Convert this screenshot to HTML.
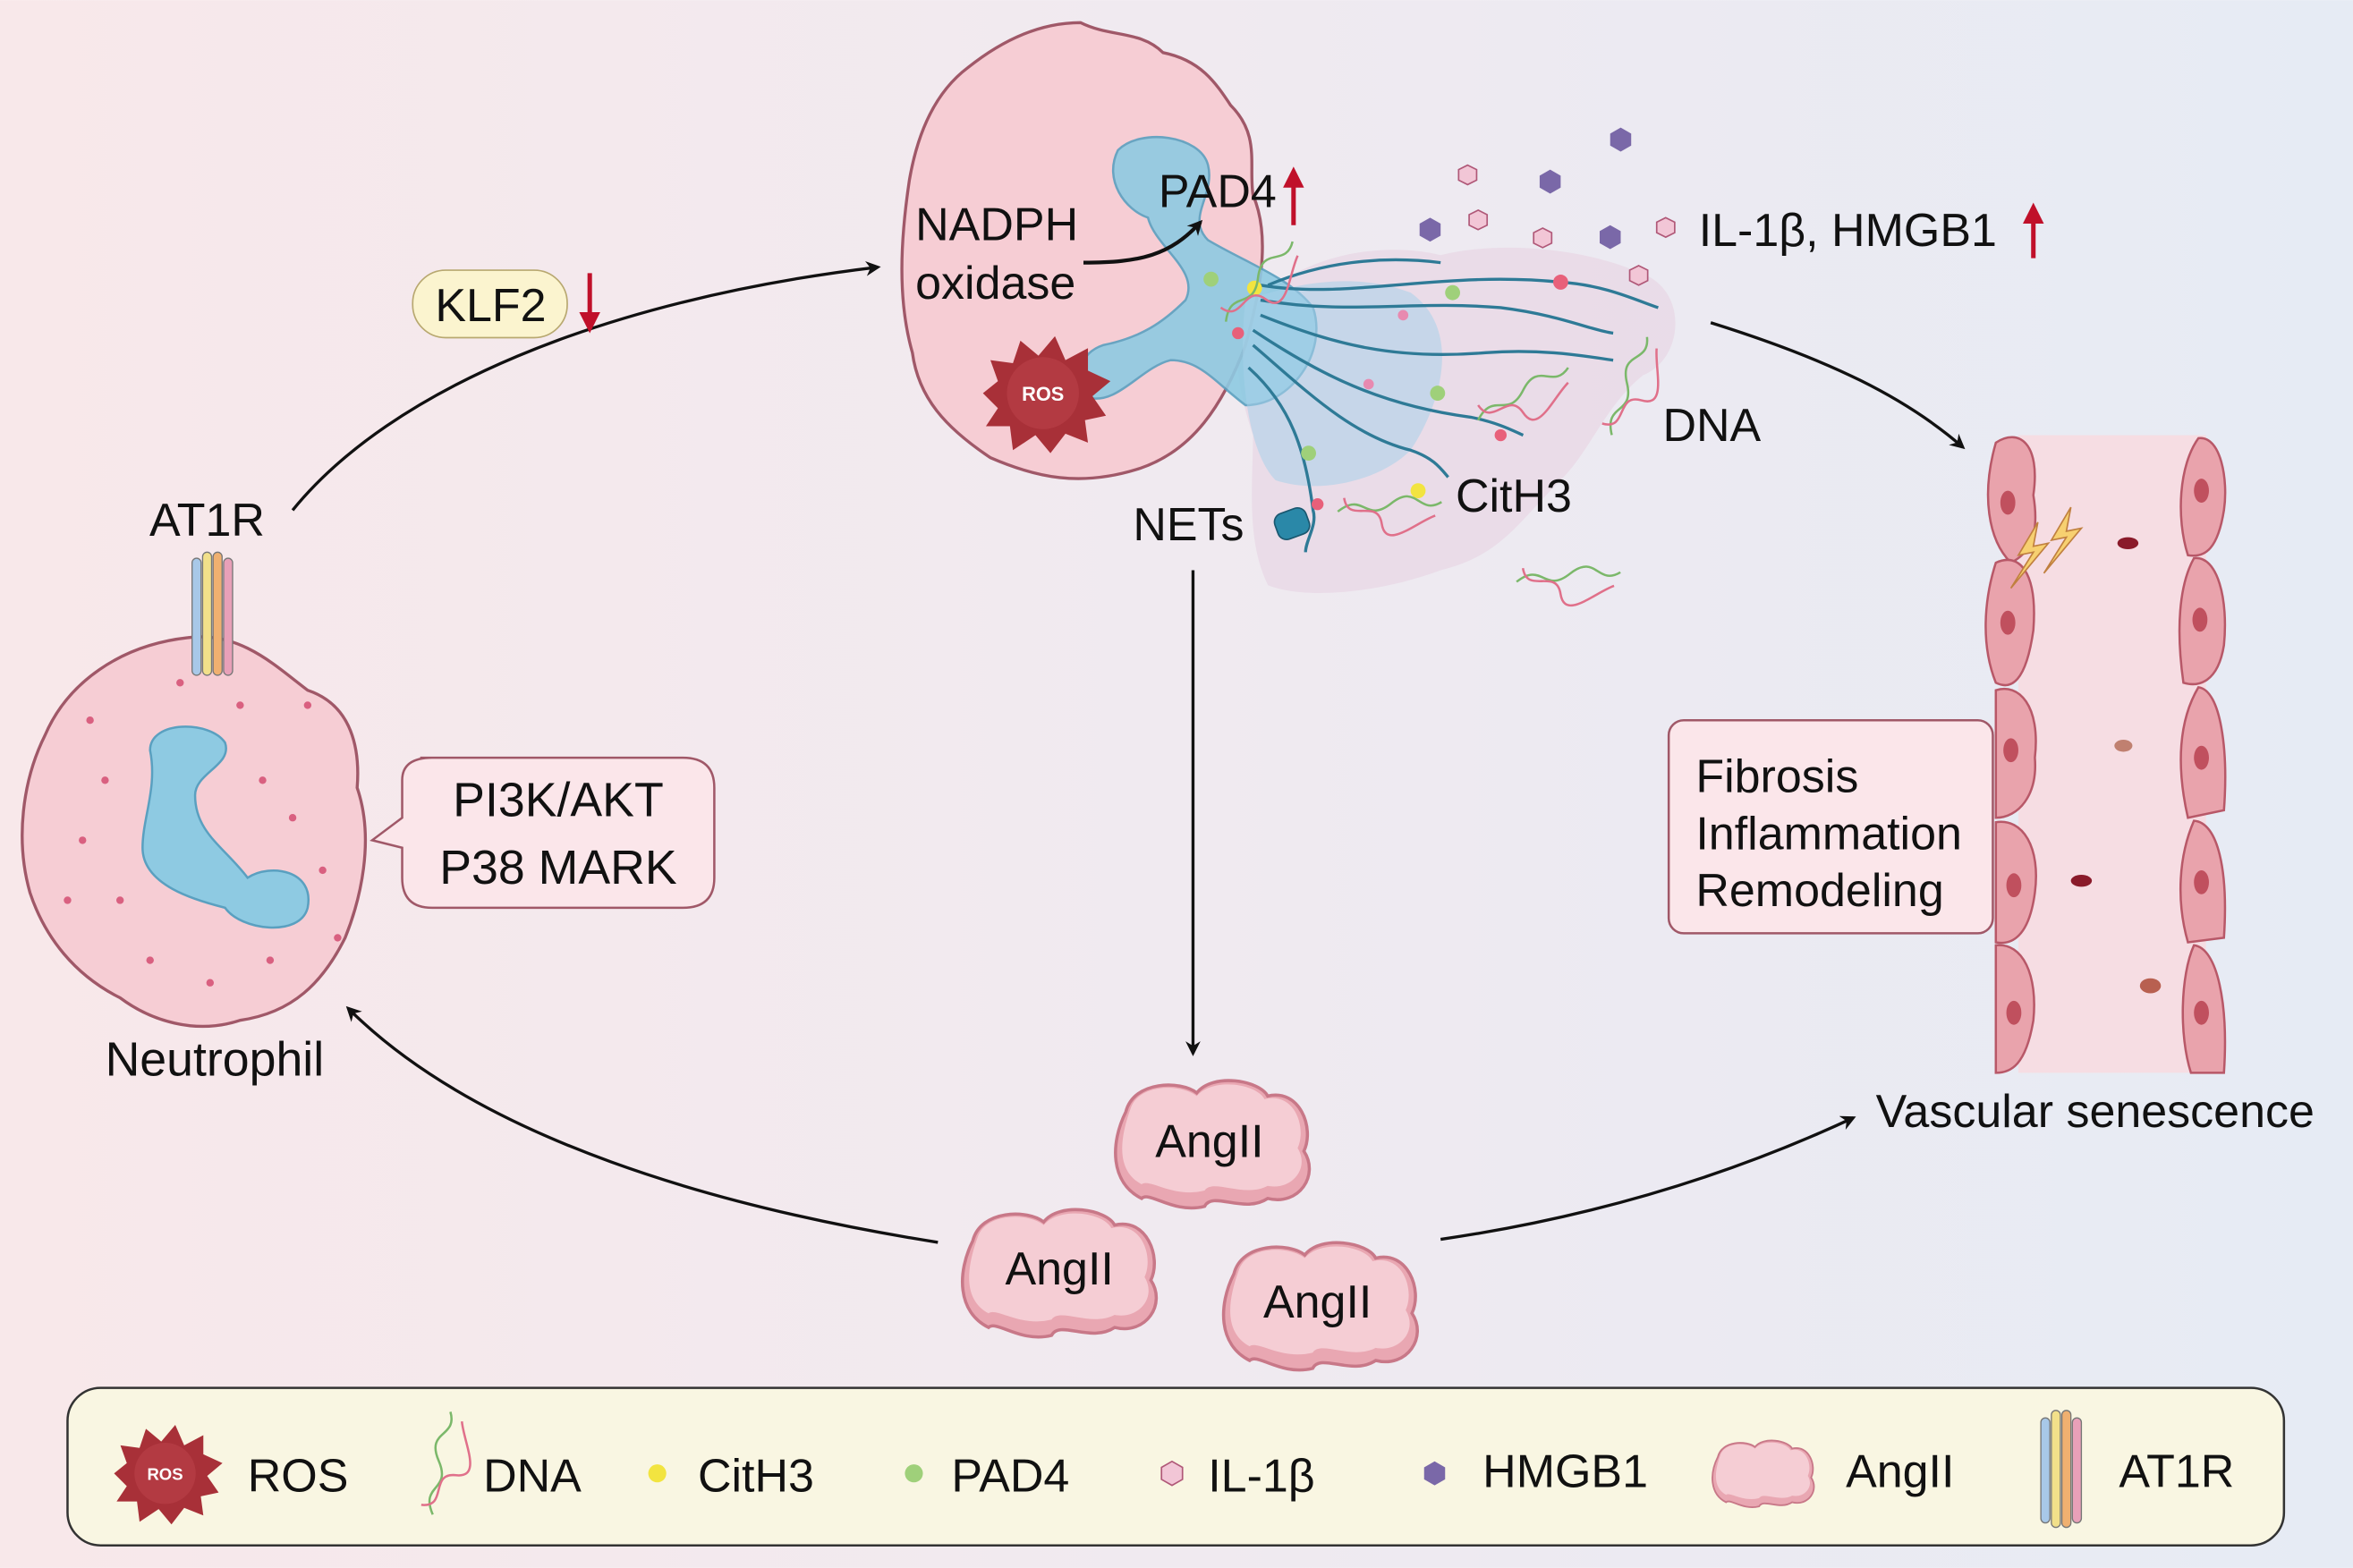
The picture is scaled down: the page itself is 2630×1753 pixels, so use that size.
<!DOCTYPE html>
<html><head><meta charset="utf-8">
<style>
html,body{margin:0;padding:0;width:2630px;height:1753px;overflow:hidden}
svg{display:block}
text{font-family:"Liberation Sans",sans-serif;fill:#111}
</style></head><body>
<svg width="2630" height="1753" viewBox="0 0 1568 1045" xmlns="http://www.w3.org/2000/svg">
<defs>
<linearGradient id="bg" x1="0" x2="1" y1="0" y2="0">
<stop offset="0" stop-color="#f8e8ea"/><stop offset="0.5" stop-color="#f0eaf0"/><stop offset="1" stop-color="#e6ebf4"/>
</linearGradient>
<marker id="ah" markerWidth="10" markerHeight="10" refX="8" refY="5" orient="auto" markerUnits="userSpaceOnUse">
<path d="M0,0 L10,5 L0,10 L3,5 z" fill="#111"/></marker>
<g id="dna">
<path d="M0,30 C10,10 20,30 30,10 C40,-10 50,10 60,-5" stroke="#7bb86a" fill="none" stroke-width="1.5"/>
<path d="M0,20 C10,35 20,10 30,25 C40,40 50,15 60,5" stroke="#e0708a" fill="none" stroke-width="1.5"/>
</g>
<g id="ang">
<path d="M-55,-20 C-50,-40 -20,-40 -10,-32 C0,-45 30,-40 35,-30 C55,-35 65,-10 58,5 C68,20 55,40 35,35 C20,45 0,30 -5,40 C-25,45 -40,30 -45,35 C-65,25 -65,0 -55,-20z" fill="#e9a7b2" stroke="#c87888" stroke-width="2"/>
<path d="M-52,-22 C-47,-38 -20,-38 -10,-30 C0,-42 28,-38 33,-28 C52,-33 60,-10 54,3 C62,16 50,30 35,27 C20,35 0,22 -5,30 C-25,35 -40,22 -45,26 C-60,18 -60,0 -52,-22z" fill="#f5cdd4"/>
</g>
</defs>
<rect width="1568" height="1045" fill="url(#bg)"/>

<!-- Neutrophil -->
<path d="M125,425 C160,420 185,445 205,460 C235,470 240,500 238,525 C250,560 240,600 230,625 C215,655 195,675 160,680 C130,690 100,680 80,665 C50,650 30,625 20,595 C10,560 15,520 30,490 C45,455 80,430 125,425z" fill="#f6cdd4" stroke="#a05868" stroke-width="2"/>
<path d="M100,500 C100,480 140,480 150,495 C155,510 130,515 130,530 C130,555 150,565 165,585 C180,575 210,580 205,605 C200,625 160,620 150,605 C130,600 95,590 95,565 C95,545 105,525 100,500z" fill="#8ecae2" stroke="#5aa0c0" stroke-width="1.5"/>
<g fill="#d96080">
<circle cx="60" cy="480" r="2.5"/><circle cx="70" cy="520" r="2.5"/><circle cx="55" cy="560" r="2.5"/><circle cx="80" cy="600" r="2.5"/><circle cx="100" cy="640" r="2.5"/><circle cx="140" cy="655" r="2.5"/><circle cx="180" cy="640" r="2.5"/><circle cx="205" cy="470" r="2.5"/><circle cx="175" cy="520" r="2.5"/><circle cx="195" cy="545" r="2.5"/><circle cx="215" cy="580" r="2.5"/><circle cx="120" cy="455" r="2.5"/><circle cx="160" cy="470" r="2.5"/><circle cx="45" cy="600" r="2.5"/><circle cx="225" cy="625" r="2.5"/>
</g>
<g stroke="#777" stroke-width="0.8">
<rect x="128" y="372" width="6" height="78" rx="3" fill="#a8c8e8"/>
<rect x="135" y="368" width="6" height="82" rx="3" fill="#f2e08a"/>
<rect x="142" y="368" width="6" height="82" rx="3" fill="#f0b070"/>
<rect x="149" y="372" width="6" height="78" rx="3" fill="#e8a0b8"/>
</g>
<text x="138" y="357" font-size="31" text-anchor="middle">AT1R</text>
<text x="143" y="717" font-size="32" text-anchor="middle">Neutrophil</text>
<path d="M280,505 L455,505 Q476,505 476,525 L476,585 Q476,605 455,605 L288,605 Q268,605 268,585 L268,565 L248,560 L268,545 L268,520 Q268,505 288,505z" fill="#fbe6ea" stroke="#a05868" stroke-width="1.5"/>
<text x="372" y="544" font-size="32" text-anchor="middle">PI3K/AKT</text>
<text x="372" y="589" font-size="32" text-anchor="middle">P38 MARK</text>

<path d="M195,340 C260,260 400,200 585,178" fill="none" stroke="#111" stroke-width="2" marker-end="url(#ah)"/>
<rect x="275" y="180" width="103" height="45" rx="22" fill="#fbf4cf" stroke="#b8a870"/>
<text x="327" y="214" font-size="31" text-anchor="middle">KLF2</text>
<path d="M393,182 L393,218" stroke="#c0102a" stroke-width="3"/><path d="M386,208 L393,222 L400,208z" fill="#c0102a"/>

<path d="M830,210 C860,170 920,160 960,170 C1000,160 1060,165 1100,185 C1125,200 1120,240 1095,250 C1070,270 1060,300 1040,320 C1010,350 1000,370 960,380 C920,395 870,400 845,390 C830,360 835,320 835,290 C825,260 820,230 830,210z" fill="#e8d8e6" opacity="0.8"/>
<path d="M720,15 C740,25 760,20 775,35 C800,40 810,55 820,70 C840,90 832,110 835,130 C848,160 838,200 830,230 C815,270 795,300 760,312 C720,325 690,318 660,305 C630,285 612,265 608,235 C598,200 600,160 606,120 C612,85 625,60 645,45 C670,25 695,15 720,15z" fill="#f6cdd4" stroke="#a05868" stroke-width="2"/>
<path d="M745,100 C760,85 800,90 805,110 C810,130 790,145 805,160 C830,175 860,185 875,205 C885,235 860,270 830,270 C810,255 800,240 780,240 C760,245 745,270 725,265 C715,250 720,235 735,230 C760,225 775,215 790,200 C800,180 770,165 765,145 C750,140 735,120 745,100z" fill="#8ecae2" stroke="#5aa0c0" stroke-width="1.5" opacity="0.9"/>
<path d="M830,200 C860,190 900,180 940,195 C975,220 960,270 940,300 C920,320 880,330 850,320 C830,300 825,240 830,200z" fill="#a8d2ea" opacity="0.55"/>
<g fill="none" stroke="#2e7a96" stroke-width="2">
<path d="M840,190 C900,200 960,180 1040,188 C1070,190 1090,200 1105,205"/>
<path d="M840,200 C900,210 940,200 1000,205 C1040,210 1060,220 1075,222"/>
<path d="M840,210 C890,230 930,240 990,235 C1030,232 1060,238 1075,240"/>
<path d="M835,220 C880,250 920,270 980,278 C1000,282 1010,288 1015,290"/>
<path d="M835,230 C870,260 900,290 940,300 C955,305 960,312 965,318"/>
<path d="M832,245 C860,270 870,300 875,340 C878,350 870,360 870,368"/>
<path d="M845,190 C880,175 920,170 960,175"/>
</g>
<g>
<circle cx="1040" cy="188" r="5" fill="#e8607a"/><circle cx="968" cy="195" r="5" fill="#9fd07a"/><circle cx="958" cy="262" r="5" fill="#9fd07a"/><circle cx="945" cy="327" r="5" fill="#f2e440"/><circle cx="872" cy="302" r="5" fill="#9fd07a"/><circle cx="878" cy="336" r="4" fill="#e8607a"/><circle cx="1000" cy="290" r="4" fill="#e8607a"/><circle cx="935" cy="210" r="3.5" fill="#e88ab0"/><circle cx="912" cy="256" r="3.5" fill="#e88ab0"/>
<circle cx="807" cy="186" r="5" fill="#9fd07a"/><circle cx="836" cy="192" r="5" fill="#f2e440"/><circle cx="825" cy="222" r="4" fill="#e8607a"/>
</g>
<use href="#dna" x="810" y="175" transform="rotate(-20 840 190)"/>
<use href="#dna" x="985" y="250"/>
<use href="#dna" x="1065" y="245" transform="rotate(-40 1090 270)"/>
<use href="#dna" x="895" y="325" transform="rotate(25 925 340)"/>
<use href="#dna" x="1015" y="372" transform="rotate(25 1045 385)"/>
<rect x="850" y="340" width="22" height="18" rx="6" fill="#2a88a8" stroke="#1a5870" transform="rotate(-20 861 349)"/>
<g transform="translate(695,262)">
<path d="M-40,0 L-30,-8 L-35,-22 L-20,-20 L-15,-35 L-3,-25 L8,-38 L15,-22 L30,-30 L30,-15 L45,-8 L33,2 L42,15 L28,18 L30,33 L15,27 L5,40 L-5,28 L-20,38 L-22,22 L-38,22 L-30,10z" fill="#a83038"/>
<circle r="24" fill="#b33a42"/>
<text y="5" font-size="13" font-weight="bold" text-anchor="middle" style="fill:#fff">ROS</text>
</g>
<text x="610" y="160" font-size="31">NADPH</text>
<text x="610" y="199" font-size="31">oxidase</text>
<path d="M722,175 C760,175 780,170 800,148" fill="none" stroke="#111" stroke-width="2.5" marker-end="url(#ah)"/>
<text x="772" y="138" font-size="31">PAD4</text>
<path d="M862,150 L862,118" stroke="#c0102a" stroke-width="3"/><path d="M855,125 L862,111 L869,125z" fill="#c0102a"/>
<g stroke="#b05878" stroke-width="1" fill="#f2c6d6">
<polygon points="978,110 984,113 984,120 978,123 972,120 972,113"/>
<polygon points="985,140 991,143 991,150 985,153 979,150 979,143"/>
<polygon points="1028,152 1034,155 1034,162 1028,165 1022,162 1022,155"/>
<polygon points="1092,177 1098,180 1098,187 1092,190 1086,187 1086,180"/>
<polygon points="1110,145 1116,148 1116,155 1110,158 1104,155 1104,148"/>
</g>
<g fill="#7a68a8">
<polygon points="1080,85 1087,89 1087,97 1080,101 1073,97 1073,89"/>
<polygon points="1033,113 1040,117 1040,125 1033,129 1026,125 1026,117"/>
<polygon points="953,145 960,149 960,157 953,161 946,157 946,149"/>
<polygon points="1073,150 1080,154 1080,162 1073,166 1066,162 1066,154"/>
</g>
<text x="1132" y="164" font-size="31">IL-1β, HMGB1</text>
<path d="M1355,172 L1355,142" stroke="#c0102a" stroke-width="3"/><path d="M1348,149 L1355,135 L1362,149z" fill="#c0102a"/>
<text x="1108" y="294" font-size="31">DNA</text>
<text x="970" y="341" font-size="31">CitH3</text>
<text x="755" y="360" font-size="31">NETs</text>

<path d="M795,380 L795,702" stroke="#111" stroke-width="2" marker-end="url(#ah)"/>
<path d="M1140,215 C1220,240 1270,265 1308,298" fill="none" stroke="#111" stroke-width="2" marker-end="url(#ah)"/>
<path d="M625,828 C480,805 320,760 232,672" fill="none" stroke="#111" stroke-width="2" marker-end="url(#ah)"/>
<path d="M960,826 C1070,810 1160,780 1235,745" fill="none" stroke="#111" stroke-width="2" marker-end="url(#ah)"/>

<g transform="translate(808,762) scale(1.05)"><use href="#ang"/></g>
<g transform="translate(706,848) scale(1.05)"><use href="#ang"/></g>
<g transform="translate(880,870) scale(1.05)"><use href="#ang"/></g>
<text x="806" y="771" font-size="31" text-anchor="middle">AngII</text>
<text x="706" y="856" font-size="31" text-anchor="middle">AngII</text>
<text x="878" y="878" font-size="31" text-anchor="middle">AngII</text>

<rect x="1345" y="290" width="125" height="425" fill="#f6dde3"/>
<g fill="#e9a3ac" stroke="#b85868" stroke-width="1.5">
<path d="M1330,295 C1345,285 1360,295 1355,330 C1360,360 1350,370 1340,375 C1325,360 1320,330 1330,295z"/>
<path d="M1330,375 C1345,368 1358,380 1355,420 C1350,455 1340,460 1330,455 C1320,430 1322,400 1330,375z"/>
<path d="M1330,460 C1345,455 1360,470 1356,505 C1358,530 1345,545 1330,545z"/>
<path d="M1330,548 C1348,545 1360,565 1356,595 C1352,625 1340,630 1330,628z"/>
<path d="M1330,630 C1348,628 1358,650 1355,680 C1350,710 1340,715 1330,715z"/>
<path d="M1465,292 C1480,290 1485,320 1482,340 C1478,365 1470,372 1458,370 C1450,345 1452,310 1465,292z"/>
<path d="M1462,372 C1478,370 1485,400 1482,430 C1478,455 1465,458 1455,455 C1450,420 1452,390 1462,372z"/>
<path d="M1465,458 C1480,460 1485,500 1482,540 L1458,545 C1450,510 1452,480 1465,458z"/>
<path d="M1462,547 C1478,548 1485,580 1482,625 L1458,628 C1450,600 1452,570 1462,547z"/>
<path d="M1462,630 C1478,632 1485,670 1482,715 L1460,715 C1452,690 1453,650 1462,630z"/>
</g>
<g fill="#c0505e">
<ellipse cx="1338" cy="335" rx="5" ry="8"/><ellipse cx="1338" cy="415" rx="5" ry="8"/><ellipse cx="1340" cy="500" rx="5" ry="8"/><ellipse cx="1342" cy="590" rx="5" ry="8"/><ellipse cx="1342" cy="675" rx="5" ry="8"/>
<ellipse cx="1467" cy="327" rx="5" ry="8"/><ellipse cx="1466" cy="413" rx="5" ry="8"/><ellipse cx="1467" cy="505" rx="5" ry="8"/><ellipse cx="1467" cy="588" rx="5" ry="8"/><ellipse cx="1467" cy="675" rx="5" ry="8"/>
</g>
<g fill="#8a1a2a"><ellipse cx="1418" cy="362" rx="7" ry="4"/><ellipse cx="1387" cy="587" rx="7" ry="4"/><ellipse cx="1433" cy="657" rx="7" ry="5" fill="#b86050"/><ellipse cx="1415" cy="497" rx="6" ry="4" fill="#c08070"/></g>
<path d="M1358,348 L1345,370 L1355,368 L1340,392 L1365,362 L1355,364z" fill="#f7d070" stroke="#c08040"/>
<path d="M1380,338 L1367,360 L1377,358 L1362,382 L1387,352 L1377,354z" fill="#f7d070" stroke="#c08040"/>
<rect x="1112" y="480" width="216" height="142" rx="10" fill="#fbe6ea" stroke="#a05868" stroke-width="1.5"/>
<text x="1130" y="528" font-size="31">Fibrosis</text>
<text x="1130" y="566" font-size="31">Inflammation</text>
<text x="1130" y="604" font-size="31">Remodeling</text>
<text x="1250" y="751" font-size="31">Vascular senescence</text>

<rect x="45" y="925" width="1477" height="105" rx="22" fill="#f9f6e2" stroke="#333" stroke-width="1.5"/>
<g transform="translate(110,982) scale(0.85)">
<path d="M-40,0 L-30,-8 L-35,-22 L-20,-20 L-15,-35 L-3,-25 L8,-38 L15,-22 L30,-30 L30,-15 L45,-8 L33,2 L42,15 L28,18 L30,33 L15,27 L5,40 L-5,28 L-20,38 L-22,22 L-38,22 L-30,10z" fill="#a83038"/>
<circle r="24" fill="#b33a42"/><text y="5" font-size="13" font-weight="bold" text-anchor="middle" style="fill:#fff">ROS</text>
</g>
<text x="165" y="994" font-size="31">ROS</text>
<use href="#dna" x="270" y="960" transform="rotate(-50 300 980)"/>
<text x="322" y="994" font-size="31">DNA</text>
<circle cx="438" cy="982" r="6" fill="#f2e440"/><text x="465" y="994" font-size="31">CitH3</text>
<circle cx="609" cy="982" r="6" fill="#9fd07a"/><text x="634" y="994" font-size="31">PAD4</text>
<polygon points="781,974 788,978 788,986 781,990 774,986 774,978" fill="#f2c6d6" stroke="#b05878"/><text x="805" y="994" font-size="31">IL-1β</text>
<polygon points="956,974 963,978 963,986 956,990 949,986 949,978" fill="#7a68a8"/><text x="988" y="991" font-size="31">HMGB1</text>
<g transform="translate(1175,982) scale(0.55)"><use href="#ang"/></g>
<text x="1230" y="991" font-size="31">AngII</text>
<g stroke="#777" stroke-width="0.8">
<rect x="1360" y="945" width="6" height="70" rx="3" fill="#a8c8e8"/>
<rect x="1367" y="940" width="6" height="78" rx="3" fill="#f2e08a"/>
<rect x="1374" y="940" width="6" height="78" rx="3" fill="#f0b070"/>
<rect x="1381" y="945" width="6" height="70" rx="3" fill="#e8a0b8"/>
</g>
<text x="1412" y="991" font-size="31">AT1R</text>
</svg>
</body></html>
